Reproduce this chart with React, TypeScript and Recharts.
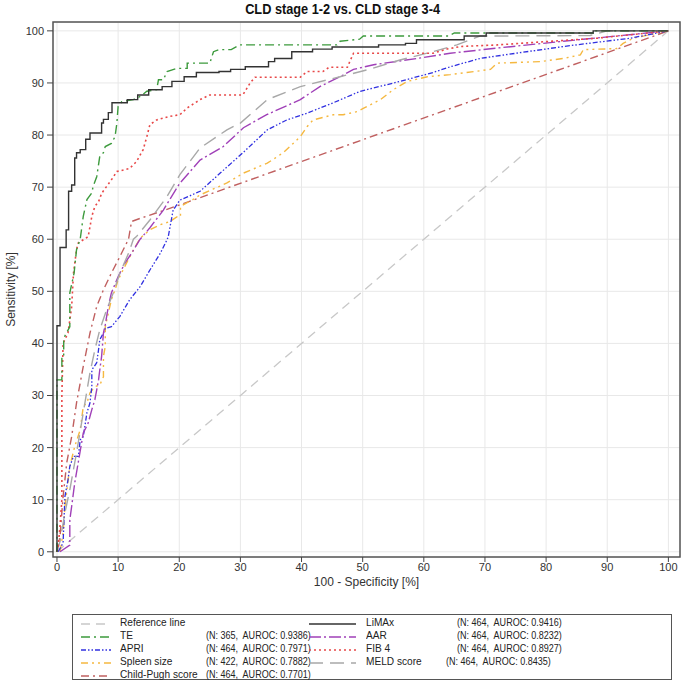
import React from 'react';
import { LineChart, Line, XAxis, YAxis, CartesianGrid, ReferenceArea } from 'recharts';

const X_TICKS = [0, 10, 20, 30, 40, 50, 60, 70, 80, 90, 100];
const Y_TICKS = [0, 10, 20, 30, 40, 50, 60, 70, 80, 90, 100];

const REFERENCE: [number, number][] = [[0, 0], [100, 100]];

const LIMAX: [number, number][] = [
  [0, 0], [0, 43.4], [0.5, 43.4], [0.5, 58.4], [1.5, 58.4], [1.5, 61.8], [1.9, 61.8], [1.9, 69.2],
  [2.4, 69.2], [2.4, 70.4], [2.9, 70.4], [2.9, 75.6], [3.2, 75.6], [3.2, 76.6], [3.8, 76.6], [3.8, 77.2],
  [4.7, 77.2], [4.7, 79.2], [5.4, 79.2], [5.4, 80.4], [7.3, 80.4], [7.3, 82.3], [7.6, 82.3], [7.6, 83],
  [8.4, 83], [8.4, 84.3], [9, 84.3], [9, 86.2], [11.5, 86.2], [11.5, 86.8], [13.2, 86.8], [13.2, 87.7],
  [15, 87.7], [15, 88.7], [17.2, 88.7], [17.2, 89.3], [18.8, 89.3], [18.8, 90.3], [20.8, 90.3], [20.8, 91.2],
  [22.8, 91.2], [22.8, 92], [26.5, 92], [26.5, 92.2], [28.4, 92.2], [28.4, 92.6], [30.8, 92.6], [30.8, 93.1],
  [34.6, 93.1], [34.6, 94.1], [35.6, 94.1], [35.6, 94.7], [38.4, 94.7], [38.4, 96], [41.8, 96], [41.8, 96.5],
  [45, 96.5], [45, 96.9], [52.6, 96.9], [52.6, 97.3], [57, 97.3], [57, 97.6], [58.8, 97.6], [58.8, 98.3],
  [66.6, 98.3], [66.6, 99], [70.2, 99], [70.2, 99.6], [87.7, 99.6], [87.7, 100], [100, 100],
];

const TE: [number, number][] = [
  [0, 0], [0, 33], [0.8, 33], [0.8, 37.8], [1.1, 37.8], [1.1, 41], [2.1, 43.2], [2.1, 49.7], [2.8, 53.5],
  [3.2, 58], [3.8, 60], [4.3, 64.4], [4.9, 67.6], [5.7, 68.9], [5.9, 70.1], [6.5, 72], [7.0, 75.9],
  [7.6, 76.6], [7.9, 77.8], [8.9, 78.4], [9.5, 79.7], [9.8, 82.3], [10, 85.5], [10.6, 86.4], [12.5, 86.8],
  [13.6, 87.4], [14.7, 88.4], [16.3, 88.7], [16.6, 90.6], [17.4, 90.6], [18, 92.2], [19.6, 92.8],
  [21.3, 92.8], [21.3, 93.8], [25, 93.8], [25.6, 96], [26.5, 96.4], [28.5, 96.4], [29.9, 97.3],
  [45.8, 97.3], [46.3, 98], [49.5, 98.4], [50.1, 99], [64, 99], [65, 99.6], [87.7, 99.6], [87.7, 100], [100, 100],
];

const APRI: [number, number][] = [
  [0.2, 0], [1, 1.7], [1.3, 10.6], [1.8, 13.8], [2.1, 16.4], [2.7, 18.3], [3.5, 18.3], [3.8, 21.5],
  [4.3, 22.1], [4.9, 26.7], [5.4, 28.6], [5.7, 31.7], [5.7, 34.9], [6.5, 36.3], [6.8, 38.8], [7, 40.7],
  [7.6, 42], [7.9, 42.9], [8.9, 43.2], [10.3, 45.2], [11.9, 48.4], [13.6, 50.9], [15.2, 54.1], [16.9, 57.3],
  [18, 59.9], [18.2, 60.5], [19, 65.6], [20.1, 67.5], [23.4, 69.2], [26.7, 72.7], [30.5, 76.7], [34.4, 81],
  [37.6, 82.9], [40.9, 84.2], [45.2, 86.2], [49.6, 88.4], [56.1, 90.3], [61.5, 92], [64.3, 93.1],
  [69.2, 94.7], [82.8, 97], [93.8, 98.6], [100, 100],
];

const SPLEEN: [number, number][] = [
  [0.5, 0], [1, 3.6], [1.3, 8.7], [2.1, 16.4], [2.9, 20.2], [3.8, 23.4], [4.3, 27.9], [4.9, 28.6],
  [5.4, 30.5], [6.2, 31.7], [7, 32], [7.6, 33.6], [7.6, 37.5], [7.9, 39.4], [7.9, 43.2], [8.4, 45.8],
  [8.9, 48.4], [9.5, 50.3], [10, 52.2], [11.1, 54.8], [12.2, 57.3], [13.6, 60.2], [15.2, 61.8],
  [16.9, 62.8], [18.5, 63.4], [19.6, 64.3], [20.2, 64.3], [20.2, 66.3], [22.2, 67.6], [23.4, 68.5],
  [25.5, 69.6], [27.8, 70.8], [30.5, 72.7], [34.4, 74.6], [37, 76.6], [38.1, 77.8], [39.8, 79.7],
  [40.9, 81.6], [41.9, 82.9], [45.2, 83.9], [46.8, 83.9], [49.1, 84.5], [50.1, 85.1], [52.9, 86.8],
  [55, 88.7], [57.3, 90.3], [60.6, 91.2], [64.3, 91.6], [70.9, 92.6], [72, 93.8], [79.1, 94.1],
  [82.8, 94.7], [85.6, 95.4], [86.1, 96.4], [91.6, 96.6], [92.6, 97.6], [94.3, 98.6], [100, 100],
];

const CHILD_PUGH: [number, number][] = [
  [0, 0], [0.5, 3], [1, 10.6], [1.6, 17.1], [2.4, 22.1], [3.2, 28.6], [4.3, 35.6], [5.4, 42], [6.5, 47.1],
  [7.6, 50.3], [8.9, 53.5], [10.3, 56.7], [11.7, 60], [12.2, 63.4], [13.6, 64], [16.9, 65.3],
  [20.1, 66.6], [100, 100],
];

const AAR: [number, number][] = [
  [0.5, 0], [2.1, 1.3], [2.1, 6.1], [2.4, 8.7], [2.9, 13.2], [3.5, 17.3], [4.3, 22.8], [5.1, 24.7],
  [5.7, 27.3], [6.2, 29.2], [6.8, 33], [7, 34.9], [7.3, 37.5], [7.6, 42], [7.9, 43.6], [8.4, 47.1],
  [8.9, 49.7], [10, 52.8], [11.1, 55.4], [12.2, 57.3], [13.6, 60], [15.2, 62.2], [17.4, 65.6],
  [20, 70.6], [23.4, 75.2], [27.2, 77.8], [30.5, 81.4], [34.3, 83.9], [39.8, 86.8], [43, 89.3],
  [46.3, 91.2], [48.5, 92.6], [51.8, 93.5], [58.9, 94.7], [64.3, 95.7], [72, 96.7], [82.8, 98], [100, 100],
];

const FIB4: [number, number][] = [
  [0, 0], [0.2, 1], [0.5, 5], [0.8, 10], [0.8, 30], [1, 40], [1.8, 42], [2.4, 47], [2.7, 53.5], [3.2, 58],
  [3.5, 59.3], [4.3, 59.9], [5.1, 60.5], [5.4, 62.4], [5.7, 64.4], [6.2, 66.3], [6.8, 67.2], [7.3, 68.8],
  [8.1, 70.1], [8.9, 71.4], [9.8, 73], [10.9, 73.3], [11.9, 73.6], [13, 74.9], [14.1, 77.2], [14.7, 79.7],
  [15.2, 82], [16.3, 82.9], [18.5, 83.6], [20.1, 83.9], [21.3, 85.2], [23.4, 86.8], [25, 87.7],
  [30.4, 87.7], [31.6, 90], [32.4, 91.1], [39.8, 91.1], [40.9, 92.2], [43.5, 92.2], [44.5, 93],
  [47.5, 93], [48, 94.4], [48.5, 95.7], [61.5, 95.7], [63.8, 96.5], [66, 97], [72, 97.3], [88.4, 98.6], [100, 100],
];

const MELD: [number, number][] = [
  [0, 0], [0.5, 2], [1.3, 7.5], [2.1, 11.9], [3.2, 19], [4.3, 26.7], [5.4, 34.4], [6.2, 38.8], [7, 42.6],
  [8.1, 46.4], [9.2, 49.7], [10.3, 53.5], [11.7, 57.3], [12.5, 60], [13, 60.5], [15.2, 63.7], [18, 68.2],
  [20.1, 72.4], [23.4, 77.5], [27.8, 81], [30, 82.3], [34.4, 86.8], [39.8, 89.3], [46.3, 91.2],
  [50.7, 92.5], [56.1, 94.4], [61.5, 96], [65.4, 97.3], [69.2, 99], [87.2, 99.1], [90, 100], [100, 100],
];

type Pt = [number, number];
interface SeriesDef {
  key: string;
  name: string;
  stats: string;
  pts: Pt[];
  color: string;
  dash: string;
  width: number;
}

const SERIES: Record<string, SeriesDef> = {
  ref: { key: 'ref', name: 'Reference line', stats: '', pts: REFERENCE, color: '#c8c8c8', dash: '9 6', width: 1.3 },
  te: { key: 'te', name: 'TE', stats: '(N: 365,  AUROC: 0.9386)', pts: TE, color: '#3c9a3c', dash: '9 4 2 4', width: 1.4 },
  apri: { key: 'apri', name: 'APRI', stats: '(N: 464,  AUROC: 0.7971)', pts: APRI, color: '#3030e0', dash: '5 2 1.5 2 1.5 2', width: 1.3 },
  spleen: { key: 'spleen', name: 'Spleen size', stats: '(N: 422,  AUROC: 0.7882)', pts: SPLEEN, color: '#f5b840', dash: '7 4 2 4 2 4', width: 1.4 },
  cp: { key: 'cp', name: 'Child-Pugh score', stats: '(N: 464,  AUROC: 0.7701)', pts: CHILD_PUGH, color: '#c06060', dash: '8 4 2 4', width: 1.4 },
  limax: { key: 'limax', name: 'LiMAx', stats: '(N: 464,  AUROC: 0.9416)', pts: LIMAX, color: '#333333', dash: '', width: 1.4 },
  aar: { key: 'aar', name: 'AAR', stats: '(N: 464,  AUROC: 0.8232)', pts: AAR, color: '#a040b8', dash: '12 3 2 3', width: 1.4 },
  fib4: { key: 'fib4', name: 'FIB 4', stats: '(N: 464,  AUROC: 0.8927)', pts: FIB4, color: '#e84848', dash: '2 3', width: 1.6 },
  meld: { key: 'meld', name: 'MELD score', stats: '(N: 464,  AUROC: 0.8435)', pts: MELD, color: '#a8a8a8', dash: '14 7', width: 1.4 },
};

const DRAW_ORDER = ['ref', 'cp', 'spleen', 'apri', 'aar', 'meld', 'fib4', 'te', 'limax'];
const LEGEND_LEFT = ['ref', 'te', 'apri', 'spleen', 'cp'];
const LEGEND_RIGHT = ['limax', 'aar', 'fib4', 'meld'];

const FONT = '"Liberation Sans", Arial, sans-serif';

const toData = (pts: Pt[]) => pts.map(([x, y]) => ({ x, y }));

function Sample({ s, w }: { s: SeriesDef; w: number }) {
  return (
    <svg width={w} height={10} style={{ display: 'block' }}>
      <line x1={0} y1={5} x2={w} y2={5} stroke={s.color} strokeWidth={s.width} strokeDasharray={s.dash || undefined} />
    </svg>
  );
}

const statStyle: React.CSSProperties = { position: 'absolute', whiteSpace: 'pre', transform: 'scaleX(0.82)', transformOrigin: 'left center' };
const nameStyle: React.CSSProperties = { position: 'absolute', whiteSpace: 'pre', transform: 'scaleX(0.92)', transformOrigin: 'left center' };

export default function App() {
  const rowH = 13;
  return (
    <div style={{ position: 'absolute', left: 0, top: 0, width: 685, height: 685, background: '#fff', overflow: 'hidden', fontFamily: FONT }}>
      <div style={{ position: 'absolute', left: 0, top: 0, width: 685, textAlign: 'center', fontWeight: 'bold', fontSize: 15, lineHeight: '17px', color: '#111', transform: 'scaleX(0.85)', transformOrigin: '343px center' }}>
        CLD stage 1-2 vs. CLD stage 3-4
      </div>
      <LineChart width={685} height={600} margin={{ top: 22, right: 5, left: 0, bottom: 0 }}>
        <CartesianGrid stroke="#e8e8e8" strokeWidth={1} />
        <XAxis
          type="number"
          dataKey="x"
          domain={[-0.65, 101.9]}
          ticks={X_TICKS}
          allowDataOverflow
          height={43}
          axisLine={false}
          tickSize={5}
          tickMargin={1}
          tickLine={{ stroke: '#444' }}
          tick={{ fontSize: 11, fill: '#333', fontFamily: FONT }}
          label={{ value: '100 - Specificity [%]', position: 'insideBottom', offset: 14, fontSize: 12, fill: '#333', fontFamily: FONT }}
        />
        <YAxis
          type="number"
          dataKey="y"
          domain={[-1, 101.7]}
          ticks={Y_TICKS}
          allowDataOverflow
          width={53}
          axisLine={false}
          tickSize={6}
          tickMargin={3}
          tickLine={{ stroke: '#444' }}
          tick={{ fontSize: 11, fill: '#333', fontFamily: FONT }}
          label={{ value: 'Sensitivity [%]', angle: -90, position: 'insideLeft', offset: 11, fontSize: 12, fill: '#333', fontFamily: FONT, style: { textAnchor: 'middle' } }}
        />
        {DRAW_ORDER.map((k) => {
          const s = SERIES[k];
          return (
            <Line
              key={k}
              data={toData(s.pts)}
              dataKey="y"
              type="linear"
              stroke={s.color}
              strokeWidth={s.width}
              strokeDasharray={s.dash || undefined}
              dot={false}
              activeDot={false}
              isAnimationActive={false}
              legendType="none"
            />
          );
        })}
        <ReferenceArea x1={-0.65} x2={101.9} y1={-1} y2={101.7} fill="none" fillOpacity={0} stroke="#555" strokeWidth={1.5} ifOverflow="visible" />
      </LineChart>
      <div style={{ position: 'absolute', left: 72, top: 614, width: 600, height: 66, border: '1px solid #555', boxSizing: 'border-box', fontSize: 11, color: '#222', lineHeight: `${rowH}px` }}>
        {LEGEND_LEFT.map((k, i) => {
          const s = SERIES[k];
          return (
            <React.Fragment key={k}>
              <div style={{ position: 'absolute', left: 8, top: 3 + i * rowH + 1 }}><Sample s={s} w={30} /></div>
              <div style={{ ...nameStyle, left: 47, top: 1 + i * rowH }}>{s.name}</div>
              {s.stats && (
                <div style={{ ...statStyle, left: 133, top: 1 + i * rowH }}>{s.stats}</div>
              )}
            </React.Fragment>
          );
        })}
        {LEGEND_RIGHT.map((k, i) => {
          const s = SERIES[k];
          return (
            <React.Fragment key={k}>
              <div style={{ position: 'absolute', left: 236, top: 3 + i * rowH + 1 }}><Sample s={s} w={47} /></div>
              <div style={{ ...nameStyle, left: 293, top: 1 + i * rowH }}>{s.name}</div>
              <div style={{ ...statStyle, left: k === 'meld' ? 373 : 384, top: 1 + i * rowH }}>{s.stats}</div>
            </React.Fragment>
          );
        })}
      </div>
    </div>
  );
}
